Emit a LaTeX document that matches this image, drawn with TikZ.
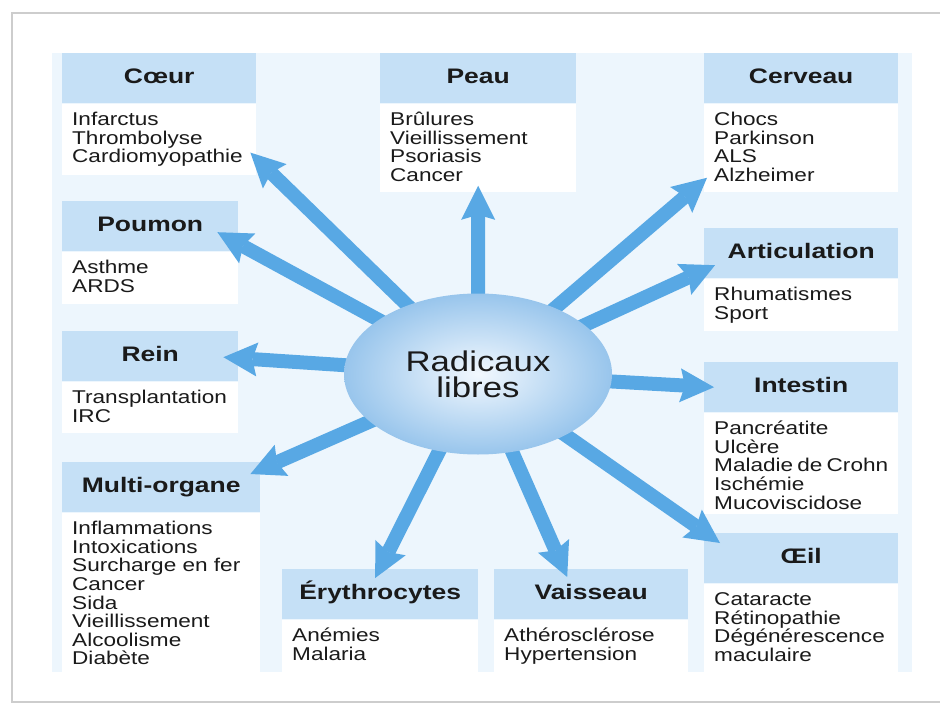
\documentclass[tikz,border=0pt]{standalone}
\usepackage{fontspec}
\usepackage{tikz}
\usetikzlibrary{positioning,arrows.meta,shapes.geometric}

\newfontfamily\organfont[FakeStretch=1.22]{Liberation Sans}
\newfontfamily\organheadfont[FakeStretch=1.26]{Liberation Sans}
\newcommand{\bodytxt}{\organfont\fontsize{18.5pt}{18.6pt}\selectfont\lineskiplimit=-20pt}
\newcommand{\headtxt}{\organheadfont\bfseries\fontsize{21pt}{24pt}\selectfont}
\newcommand{\hubtxt}{\organfont\fontsize{28.5pt}{26pt}\selectfont}
\newcommand{\ills}[3]{\parbox[t][#2][t]{#1}{\rule{0pt}{22pt}#3}}

\definecolor{framegray}{HTML}{CDCDCD}
\definecolor{panelblue}{HTML}{EDF6FD}
\definecolor{headblue}{HTML}{C5E0F6}
\definecolor{rayblue}{HTML}{58A8E4}
\definecolor{hubin}{HTML}{F2F8FE}
\definecolor{hubout}{HTML}{98C5EC}
\definecolor{inkgray}{HTML}{1A1A1A}

\begin{document}
\begin{tikzpicture}[x=1pt,y=-1pt,
  head/.style={fill=headblue,anchor=north west,minimum height=50pt,inner sep=0pt,
    text height=15pt,text depth=4pt,text=inkgray,font=\headtxt},
  body/.style={fill=white,inner xsep=10pt,inner ysep=0pt,text=inkgray,font=\bodytxt},
  ray/.style={draw=rayblue,line width=14pt,-{Stealth[width=34pt,length=34pt,inset=5pt,line width=0pt]}},
  hubnode/.style={ellipse,minimum width=268pt,minimum height=161pt,inner sep=0pt,
    inner color=hubin,outer color=hubout,align=center,text=inkgray,font=\hubtxt}]
\useasboundingbox (0,0) rectangle (940,706);
\fill[white] (0,0) rectangle (940,706);
\draw[framegray,line width=2pt] (945,13) -- (12,13) -- (12,702) -- (945,702);
\fill[panelblue] (52,53) rectangle (912,672);

\node[head,minimum width=194pt] (coeurh) at (62,53) {Cœur};
\node[body,below=0pt of coeurh] (coeurb) {\ills{174pt}{71pt}{Infarctus\\Thrombolyse\\Cardiomyopathie}};
\node[head,minimum width=196pt] (peauh) at (380,53) {Peau};
\node[body,below=0pt of peauh] (peaub) {\ills{176pt}{88pt}{Brûlures\\Vieillissement\\Psoriasis\\Cancer}};
\node[head,minimum width=194pt] (cervh) at (704,53) {Cerveau};
\node[body,below=0pt of cervh] (cervb) {\ills{174pt}{88pt}{Chocs\\Parkinson\\ALS\\Alzheimer}};
\node[head,minimum width=176pt] (poumh) at (62,201) {Poumon};
\node[body,below=0pt of poumh] (poumb) {\ills{156pt}{52pt}{Asthme\\ARDS}};
\node[head,minimum width=194pt] (arth) at (704,228) {Articulation};
\node[body,below=0pt of arth] (artb) {\ills{174pt}{52pt}{Rhumatismes\\Sport}};
\node[head,minimum width=176pt] (reinh) at (62,331) {Rein};
\node[body,below=0pt of reinh] (reinb) {\ills{156pt}{51pt}{Transplantation\\IRC}};
\node[head,minimum width=194pt] (inth) at (704,362) {Intestin};
\node[body,below=0pt of inth] (intb) {\ills{174pt}{101pt}{Pancréatite\\Ulcère\\Maladie~de~Crohn\\Ischémie\\Mucoviscidose}};
\node[head,minimum width=198pt] (multh) at (62,462) {Multi-organe};
\node[body,below=0pt of multh] (multb) {\ills{178pt}{160pt}{Inflammations\\Intoxications\\Surcharge~en~fer\\Cancer\\Sida\\Vieillissement\\Alcoolisme\\Diabète}};
\node[head,minimum width=194pt] (oeilh) at (704,533) {Œil};
\node[body,below=0pt of oeilh] (oeilb) {\ills{174pt}{89pt}{Cataracte\\Rétinopathie\\Dégénérescence\\maculaire}};
\node[head,minimum width=196pt] (eryh) at (282,569) {Érythrocytes};
\node[body,below=0pt of eryh] (eryb) {\ills{176pt}{53pt}{Anémies\\Malaria}};
\node[head,minimum width=194pt] (vaish) at (494,569) {Vaisseau};
\node[body,below=0pt of vaish] (vaisb) {\ills{174pt}{53pt}{Athérosclérose\\Hypertension}};

\coordinate (hub) at (478,374);
\draw[ray] (hub) -- ([xshift=-6pt,yshift=-13.5pt]coeurb.east);
\draw[ray] (hub) -- ([xshift=-21pt,yshift=-6pt]poumh.east);
\draw[ray] (hub) -- ([xshift=-15pt,yshift=-1pt]reinh.east);
\draw[ray] (hub) -- ([xshift=-10pt,yshift=-12pt]multh.north east);
\draw[ray] (hub) -- ([xshift=-5pt,yshift=-9pt]eryh.north);
\draw[ray] (hub) -- ([xshift=-24pt,yshift=-8pt]vaish.north);
\draw[ray] (hub) -- ([xshift=16pt,yshift=-10pt]oeilh.north west);
\draw[ray] (hub) -- ([xshift=10pt]inth.west);
\draw[ray] (hub) -- ([xshift=11pt,yshift=-12pt]arth.west);
\draw[ray] (hub) -- ([xshift=3pt,yshift=14pt]cervb.south west);
\draw[ray] (hub) -- ([yshift=6pt]peaub.south);

\node[hubnode] (rad) at (hub) {Radicaux\\libres};
\end{tikzpicture}
\end{document}
